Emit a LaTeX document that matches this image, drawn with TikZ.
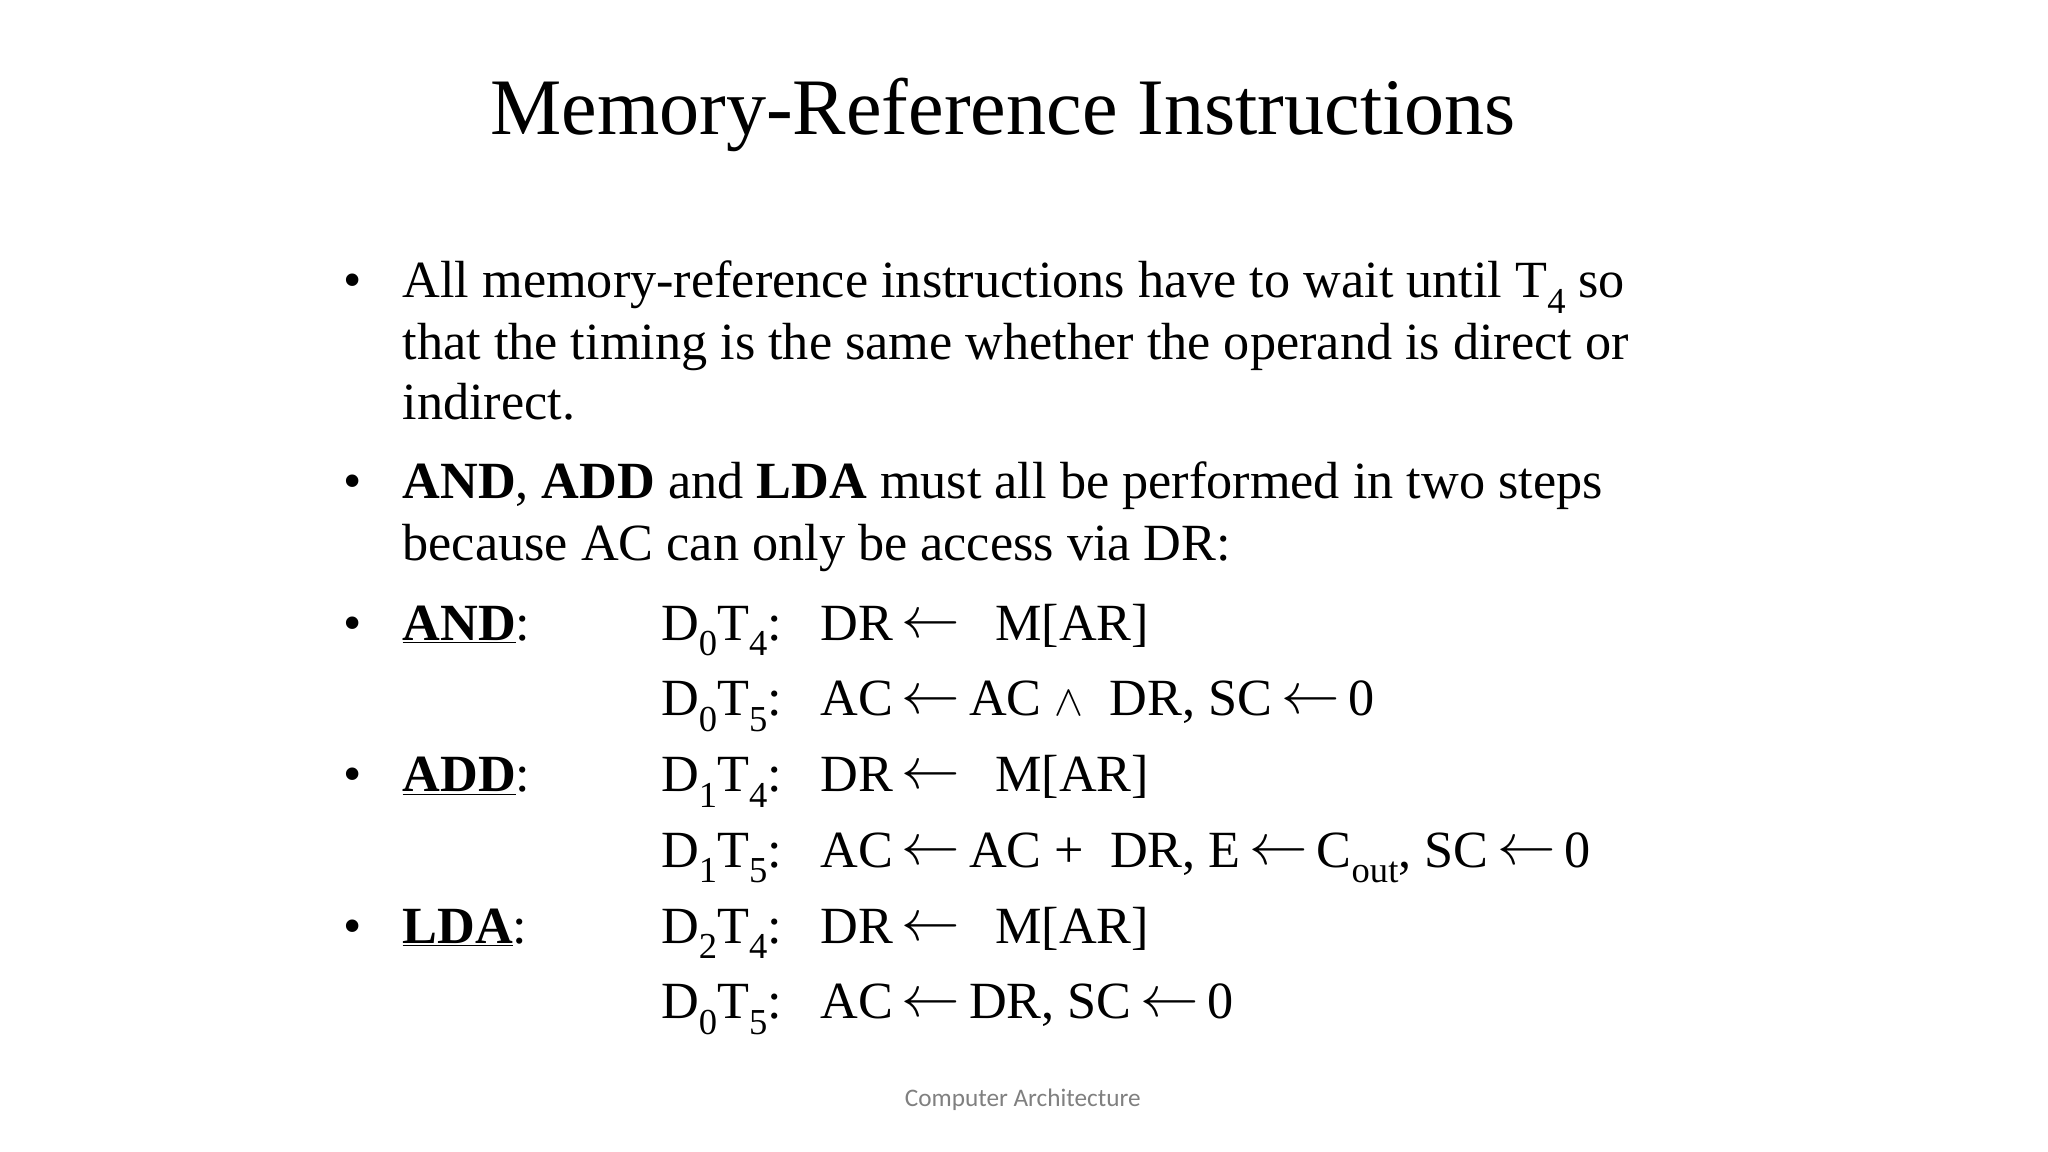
\documentclass[tikz,border=0pt]{standalone}
\usepackage{fontspec}
\setmainfont{Liberation Serif}
\newfontfamily\foot{Carlito}
\newcommand{\lowsub}[1]{\raisebox{-0.3em}{\fontsize{21}{21}\selectfont #1}}
\newcommand{\larr}{\,\raisebox{0.05em}{\scalebox{1.35}{$\leftarrow$}}\,}
\begin{document}
\begin{tikzpicture}[x=0.75pt,y=-0.75pt,
  t/.style={anchor=base west,inner sep=0pt,font=\fontsize{30}{36}\selectfont},
  b/.style={anchor=base west,inner sep=0pt,font=\fontsize{30}{36}\selectfont}]
\useasboundingbox[fill=white] (0,0) rectangle (1568,882);
\node[anchor=base,inner sep=0pt,font=\fontsize{46}{54}\selectfont] (title) at (768,103) {Memory-Reference Instructions};
\foreach \y/\n in {228/b1,382/b2,490/b3,606/b4,722/b5} \node[b] (\n) at (263,\y) {•};
\node[t] (l1) at (308,228) {All memory-reference instructions have to wait until T\lowsub{4} so};
\node[t] (l2) at (308,275) {that the timing is the same whether the operand is direct or};
\node[t] (l3) at (308,321) {indirect.};
\node[t] (l4) at (308,382) {\textbf{AND}, \textbf{ADD} and \textbf{LDA} must all be performed in two steps};
\node[t] (l5) at (308,429) {because AC can only be access via DR:};
\node[t] (and) at (308,490) {\underline{\textbf{AND}}:};
\node[t] (add) at (308,606) {\underline{\textbf{ADD}}:};
\node[t] (lda) at (308,722) {\underline{\textbf{LDA}}:};
\foreach \y/\d/\tt/\n in {490/0/4/c1,548/0/5/c2,606/1/4/c3,664/1/5/c4,722/2/4/c5,780/0/5/c6}
  \node[t] (\n) at (506,\y) {D\lowsub{\d}T\lowsub{\tt}:};
\node[t] (e1) at (628,490) {DR\larr\ \ M[AR]};
\node[t] (e2) at (628,548) {AC\larr AC $\wedge$\ \ DR, SC\larr 0};
\node[t] (e3) at (628,606) {DR\larr\ \ M[AR]};
\node[t] (e4) at (628,664) {AC\larr AC +\ \ DR, E\larr C\lowsub{out}, SC\larr 0};
\node[t] (e5) at (628,722) {DR\larr\ \ M[AR]};
\node[t] (e6) at (628,780) {AC\larr DR, SC\larr 0};
\node[anchor=base,inner sep=0pt,text=gray,font=\foot\fontsize{14.5}{16}\selectfont] (f) at (783,847) {Computer Architecture};
\end{tikzpicture}
\end{document}
